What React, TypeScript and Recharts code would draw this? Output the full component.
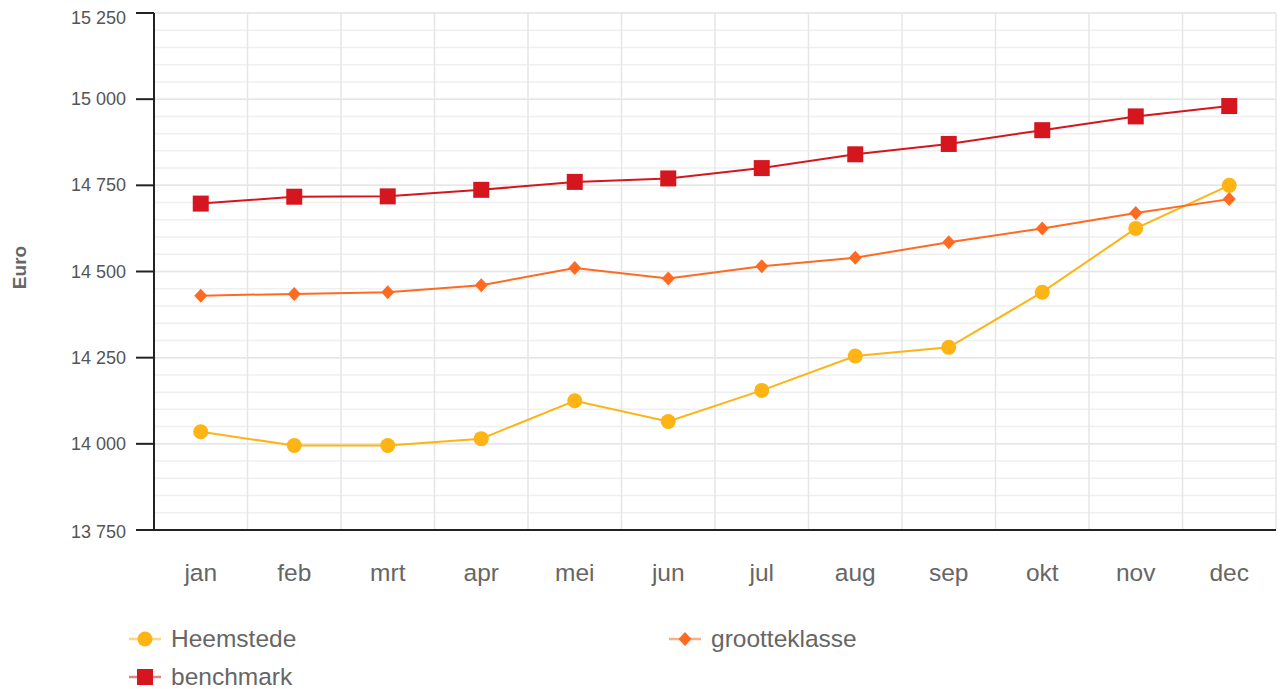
import React from 'react';
import { LineChart, Line, XAxis, YAxis, CartesianGrid, Legend } from 'recharts';

const months = ['jan', 'feb', 'mrt', 'apr', 'mei', 'jun', 'jul', 'aug', 'sep', 'okt', 'nov', 'dec'];
const heemstede = [14035, 13995, 13995, 14015, 14125, 14065, 14155, 14255, 14280, 14440, 14625, 14750];
const grootteklasse = [14430, 14435, 14440, 14460, 14510, 14480, 14515, 14540, 14585, 14625, 14670, 14710];
const benchmark = [14697, 14717, 14718, 14737, 14760, 14770, 14800, 14840, 14870, 14910, 14950, 14980];
const yDomain = [13750, 15250];
const yTicks = [13750, 14000, 14250, 14500, 14750, 15000, 15250];
const yMinor = [13750, 13800, 13850, 13900, 13950, 14000, 14050, 14100, 14150, 14200, 14250, 14300, 14350, 14400, 14450, 14500, 14550, 14600, 14650, 14700, 14750, 14800, 14850, 14900, 14950, 15000, 15050, 15100, 15150, 15200, 15250];

const data = months.map((m, i) => ({
  month: m,
  Heemstede: heemstede[i],
  grootteklasse: grootteklasse[i],
  benchmark: benchmark[i],
}));

const C_HEEM = '#FDB414';
const C_GROOT = '#FF6A21';
const C_BENCH = '#D5161E';
const FONT = '"Liberation Sans", Arial, sans-serif';

const fmt = (v: number) => {
  const s = String(v);
  return s.length > 3 ? s.slice(0, s.length - 3) + ' ' + s.slice(-3) : s;
};

const yPos = (yAxis: any, offset: any, v: number) => {
  const s = yAxis && yAxis.scale;
  if (typeof s === 'function') return s(v);
  if (s && typeof s.map === 'function') return s.map(v);
  return offset.top + (offset.height * (yDomain[1] - v)) / (yDomain[1] - yDomain[0]);
};

const xBoundaries = (xAxis: any, offset: any) => {
  const s = xAxis && xAxis.scale;
  if (typeof s === 'function') {
    return [...months.slice(1).map((m) => s(m)), offset.left + offset.width];
  }
  const step = offset.width / months.length;
  return months.map((_, i) => offset.left + step * (i + 1));
};

const CircleDot = (props: any) => {
  const { cx, cy } = props;
  if (cx == null || cy == null) return null;
  return <circle key={`c${props.index}`} cx={cx} cy={cy} r={7.5} fill={C_HEEM} />;
};
const DiamondDot = (props: any) => {
  const { cx, cy } = props;
  if (cx == null || cy == null) return null;
  return (
    <path
      key={`d${props.index}`}
      d={`M${cx},${cy - 7} L${cx + 6.5},${cy} L${cx},${cy + 7} L${cx - 6.5},${cy} Z`}
      fill={C_GROOT}
    />
  );
};
const SquareDot = (props: any) => {
  const { cx, cy } = props;
  if (cx == null || cy == null) return null;
  return <rect key={`s${props.index}`} x={cx - 8} y={cy - 8} width={16} height={16} fill={C_BENCH} />;
};

const YTick = (props: any) => {
  const { x, y, payload } = props;
  const v = payload.value;
  const shift = v === yDomain[1] ? 5 : v === yDomain[0] ? 2 : 0;
  return (
    <text
      x={x}
      y={y + shift}
      textAnchor="end"
      dominantBaseline="central"
      fill="#555"
      fontSize={18}
      fontFamily={FONT}
    >
      {fmt(v)}
    </text>
  );
};

const Icon = ({ name }: { name: string }) => {
  let color = C_HEEM;
  let marker: React.ReactNode = <circle cx={16} cy={9} r={7.5} fill={C_HEEM} />;
  if (name === 'grootteklasse') {
    color = C_GROOT;
    marker = <path d="M16,2 L22.5,9 L16,16 L9.5,9 Z" fill={C_GROOT} />;
  } else if (name === 'benchmark') {
    color = C_BENCH;
    marker = <rect x={8} y={1} width={16} height={16} fill={C_BENCH} />;
  }
  return (
    <svg width={32} height={18} style={{ display: 'block' }}>
      <line x1={0} y1={9} x2={32} y2={9} stroke={color} strokeWidth={2.5} strokeOpacity={0.55} />
      {marker}
    </svg>
  );
};

const renderLegend = (props: any) => {
  const { payload } = props;
  const order = ['Heemstede', 'grootteklasse', 'benchmark'];
  const items = order
    .map((n) => (payload || []).find((p: any) => p.value === n || p.dataKey === n))
    .filter(Boolean);
  return (
    <div style={{ position: 'relative', width: 1283, height: 69, fontFamily: FONT }}>
      {items.map((p: any, i: number) => {
        const left = i === 1 ? 669 : 129;
        const top = i === 2 ? 42 : 4;
        return (
          <div
            key={p.value}
            style={{ position: 'absolute', left, top, display: 'flex', alignItems: 'center', height: 30 }}
          >
            <Icon name={p.value} />
            <span style={{ marginLeft: 10, fontSize: 24.5, lineHeight: '30px', color: '#666' }}>{p.value}</span>
          </div>
        );
      })}
    </div>
  );
};

const EuroLabel = (props: any) => {
  const vb = props.viewBox || { x: 0, y: 13, width: 154, height: 517 };
  const cx = 19;
  const cy = vb.y + vb.height / 2 - 4;
  return (
    <text
      x={cx}
      y={cy}
      transform={`rotate(-90, ${cx}, ${cy})`}
      textAnchor="middle"
      dominantBaseline="central"
      fill="#666"
      fontSize={19}
      fontWeight="bold"
      fontFamily={FONT}
    >
      Euro
    </text>
  );
};

export default function App() {
  return (
    <div style={{ position: 'absolute', left: 0, top: 0, width: 1283, height: 689, background: '#fff' }}>
      <LineChart
        width={1283}
        height={689}
        data={data}
        margin={{ top: 13, right: 7, left: 0, bottom: 0 }}
        style={{ fontFamily: FONT }}
      >
        <CartesianGrid
          vertical={false}
          stroke="#efefef"
          strokeWidth={1.5}
          horizontalCoordinatesGenerator={({ yAxis, offset }: any) => yMinor.map((v) => yPos(yAxis, offset, v))}
        />
        <CartesianGrid
          stroke="#e6e6e6"
          strokeWidth={1.5}
          horizontalCoordinatesGenerator={({ yAxis, offset }: any) => yTicks.map((v) => yPos(yAxis, offset, v))}
          verticalCoordinatesGenerator={({ xAxis, offset }: any) => xBoundaries(xAxis, offset)}
        />
        <XAxis
          dataKey="month"
          scale="band"
          height={90}
          tickLine={false}
          tickSize={0}
          tickMargin={34}
          axisLine={{ stroke: '#222', strokeWidth: 2 }}
          tick={{ fill: '#666', fontSize: 24.5, fontFamily: FONT }}
        />
        <YAxis
          width={154}
          domain={yDomain}
          ticks={yTicks}
          interval={0}
          tickSize={18}
          tickMargin={10}
          tickLine={{ stroke: '#222', strokeWidth: 2 }}
          axisLine={{ stroke: '#222', strokeWidth: 2 }}
          tick={<YTick />}
          label={<EuroLabel />}
        />
        <Legend verticalAlign="bottom" content={renderLegend} wrapperStyle={{ left: 0, bottom: 0, width: 1283, height: 69 }} />
        <Line
          dataKey="Heemstede"
          stroke={C_HEEM}
          strokeWidth={2}
          dot={CircleDot}
          activeDot={false}
          isAnimationActive={false}
        />
        <Line
          dataKey="grootteklasse"
          stroke={C_GROOT}
          strokeWidth={2}
          dot={DiamondDot}
          activeDot={false}
          isAnimationActive={false}
        />
        <Line
          dataKey="benchmark"
          stroke={C_BENCH}
          strokeWidth={2}
          dot={SquareDot}
          activeDot={false}
          isAnimationActive={false}
        />
      </LineChart>
    </div>
  );
}
